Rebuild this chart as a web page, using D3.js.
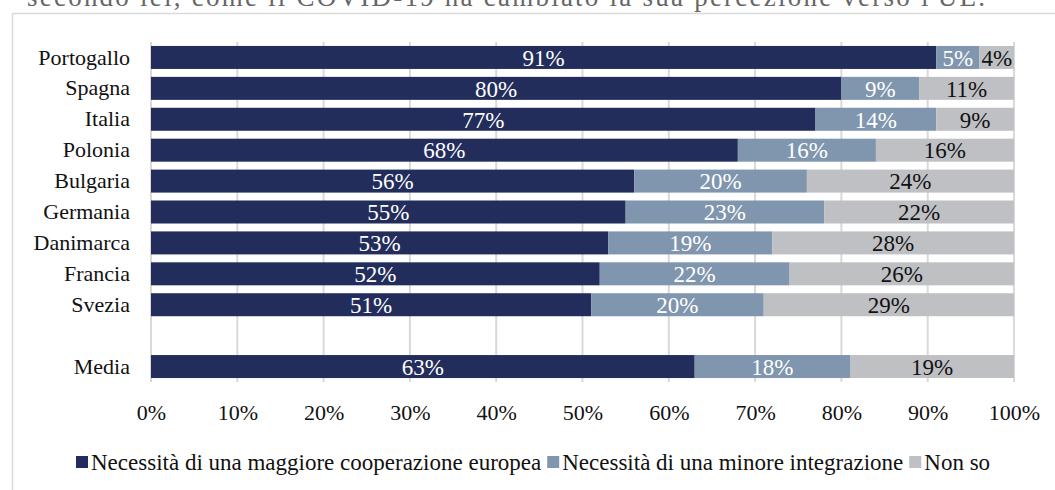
<!DOCTYPE html>
<html>
<head>
<meta charset="utf-8">
<script src="https://cdn.jsdelivr.net/npm/d3@7"></script>
<style>
  body { margin: 0; background: #fff; }
  svg { display: block; font-family: "Liberation Serif", "DejaVu Serif", serif; }
</style>
</head>
<body>
<svg id="chart_svg" width="1055" height="490"></svg>
<script>
const categories = ["Portogallo", "Spagna", "Italia", "Polonia", "Bulgaria", "Germania", "Danimarca", "Francia", "Svezia", "", "Media"];
const maggiore = [91, 80, 77, 68, 56, 55, 53, 52, 51, null, 63];
const minore = [5, 9, 14, 16, 20, 23, 19, 22, 20, null, 18];
const nonSo = [4, 11, 9, 16, 24, 22, 28, 26, 29, null, 19];
const seriesNames = ["Necessità di una maggiore cooperazione europea", "Necessità di una minore integrazione", "Non so"];
const xTicks = [0, 10, 20, 30, 40, 50, 60, 70, 80, 90, 100];

const d3 = window.d3;
const colors = ["#222d5c", "#7f96ae", "#bfc0c4"];
const labelColors = ["#ffffff", "#ffffff", "#111111"];
const margin = { top: 42, right: 41, bottom: 108, left: 151 };
const width = 1055, height = 490;
const fontSize = 22;

const svg = d3.select("#chart_svg");

// title line, cut off at the top like in the source
svg.append("text")
  .attr("x", 27)
  .attr("y", 6)
  .attr("fill", "#666")
  .attr("font-size", 27)
  .attr("textLength", 958)
  .attr("lengthAdjust", "spacing")
  .text("secondo lei, come il COVID-19 ha cambiato la sua percezione verso l'UE.");

// chart frame
svg.append("rect")
  .attr("x", 12.5)
  .attr("y", 13.5)
  .attr("width", 1100)
  .attr("height", 600)
  .attr("fill", "#fff")
  .attr("stroke", "#d9d9d9")
  .attr("stroke-width", 1.5);

const x = d3.scaleLinear().domain([0, 100]).range([margin.left, width - margin.right]);
const y = d3.scaleBand().domain(categories).range([margin.top, height - margin.bottom]).paddingInner(0.256).paddingOuter(0.128);

const data = categories.map((c, i) => ({ cat: c, vals: [maggiore[i], minore[i], nonSo[i]] }));

// gridlines
svg.append("g")
  .selectAll("line")
  .data(xTicks)
  .enter()
  .append("line")
  .attr("x1", d => x(d))
  .attr("x2", d => x(d))
  .attr("y1", margin.top)
  .attr("y2", height - margin.bottom)
  .attr("stroke", "#d9d9d9")
  .attr("stroke-width", 2);

// stacked bars
const rows = svg.append("g")
  .selectAll("g")
  .data(data.filter(d => d.vals[0] !== null))
  .enter()
  .append("g");

rows.each(function (d) {
  let acc = 0;
  const g = d3.select(this);
  d.vals.forEach((v, k) => {
    const x0 = x(acc), x1 = x(acc + v);
    g.append("rect")
      .attr("x", x0)
      .attr("y", y(d.cat))
      .attr("width", x1 - x0)
      .attr("height", y.bandwidth())
      .attr("fill", colors[k]);
    g.append("text")
      .attr("x", (x0 + x1) / 2)
      .attr("y", y(d.cat) + y.bandwidth() / 2)
      .attr("dy", "0.36em")
      .attr("text-anchor", "middle")
      .attr("font-size", 23)
      .attr("fill", labelColors[k])
      .text(v + "%");
    acc += v;
  });
});

// category axis
svg.append("g")
  .attr("transform", `translate(${margin.left}, 0)`)
  .call(d3.axisLeft(y).tickSize(0).tickPadding(21))
  .attr("font-family", null)
  .attr("font-size", fontSize)
  .call(g => g.select(".domain").remove())
  .call(g => g.selectAll(".tick text").attr("fill", "#111"));

// x axis
svg.append("g")
  .attr("transform", `translate(0, ${height - margin.bottom})`)
  .call(d3.axisBottom(x).tickValues(xTicks).tickFormat(d => d + "%").tickSize(0).tickPadding(22))
  .attr("font-family", null)
  .attr("font-size", fontSize)
  .call(g => g.select(".domain").remove())
  .call(g => g.selectAll(".tick text").attr("fill", "#111"));

// legend
const legend = svg.append("g").attr("transform", "translate(76, 462)");
let lx = 0;
seriesNames.forEach((name, k) => {
  legend.append("rect")
    .attr("x", lx)
    .attr("y", -6)
    .attr("width", 12)
    .attr("height", 12)
    .attr("fill", colors[k]);
  const t = legend.append("text")
    .attr("x", lx + 15)
    .attr("dy", "0.35em")
    .attr("font-size", 23)
    .attr("fill", "#111")
    .text(name);
  lx += 15 + t.node().getComputedTextLength() + 6;
});
</script>
</body>
</html>
